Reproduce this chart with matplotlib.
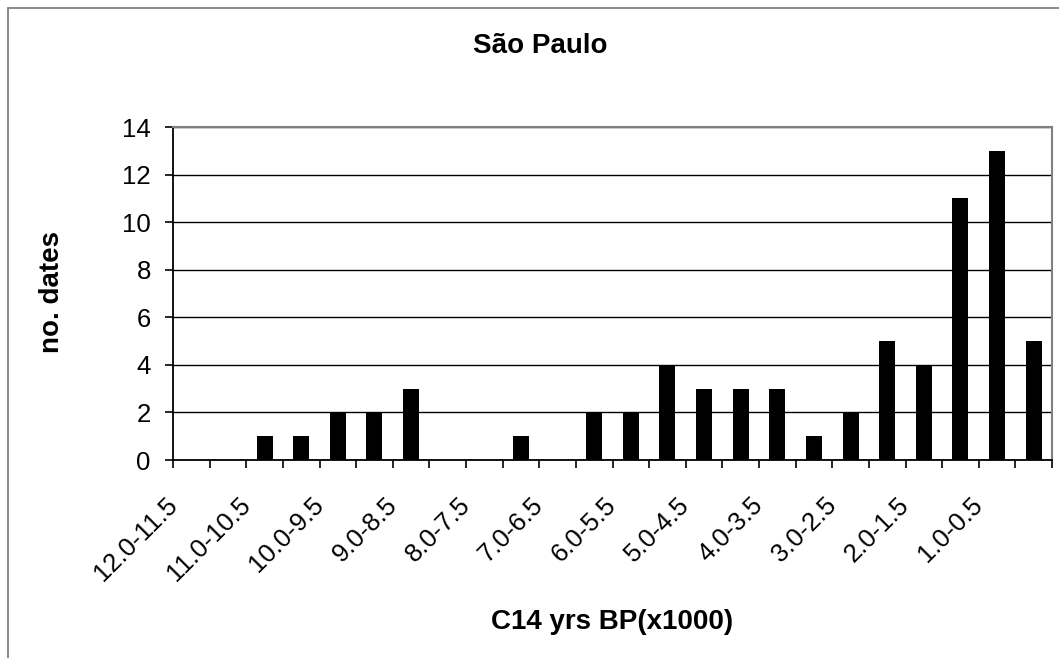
import numpy as np
import matplotlib.pyplot as plt
import matplotlib.transforms as mtransforms
from matplotlib.patches import Rectangle

plt.rcParams['font.family'] = ['Liberation Sans', 'DejaVu Sans']

# age bins (C14 yrs BP x1000), oldest first
bins = ['12.0-11.5', '11.5-11.0', '11.0-10.5', '10.5-10.0', '10.0-9.5', '9.5-9.0',
        '9.0-8.5', '8.5-8.0', '8.0-7.5', '7.5-7.0', '7.0-6.5', '6.5-6.0',
        '6.0-5.5', '5.5-5.0', '5.0-4.5', '4.5-4.0', '4.0-3.5', '3.5-3.0',
        '3.0-2.5', '2.5-2.0', '2.0-1.5', '1.5-1.0', '1.0-0.5', '0.5-0.0']
n_dates = [0, 0, 1, 1, 2, 2, 3, 0, 0, 1, 0, 2,
           2, 4, 3, 3, 3, 1, 2, 5, 4, 11, 13, 5]

W, H = 1059, 658
fig = plt.figure(figsize=(W / 100, H / 100), dpi=100)
ax = fig.add_axes([173 / W, 1 - 460 / H, (1052 - 173) / W, (460 - 127) / H])

x = np.arange(len(bins))
ax.bar(x, n_dates, width=0.44, color='black', zorder=3)

ax.set_xlim(-0.5, len(bins) - 0.5)
ax.set_ylim(0, 14)
ax.set_yticks(np.arange(0, 15, 2))
ax.yaxis.grid(True, color='black', linewidth=1.0, zorder=1)

# tick marks between categories (Excel style), no default labels
ax.set_xticks(np.arange(-0.5, len(bins), 1.0))
ax.set_xticklabels([])
ax.tick_params(axis='x', length=6, width=1.2, direction='out')
ax.tick_params(axis='y', length=6, width=1.2, direction='out', labelsize=18.5, pad=10)

# category labels on every other bin, rotated 45 deg
lab_trans = ax.get_xaxis_transform() + mtransforms.ScaledTranslation(
    -18 / 100, -41 / 100, fig.dpi_scale_trans)
for i in x[::2]:
    ax.text(i, 0, bins[i], transform=lab_trans, rotation=45, ha='right',
            va='center', rotation_mode='anchor', fontsize=18.5, clip_on=False)

for side in ['left', 'bottom']:
    ax.spines[side].set_color('black')
    ax.spines[side].set_linewidth(1.3)
for side in ['top', 'right']:
    ax.spines[side].set_color('#808080')
    ax.spines[side].set_linewidth(1.5)

fig.text(540 / W, 1 - 53 / H, 'São Paulo', ha='center', va='baseline',
         fontsize=20, fontweight='bold')
fig.text(52 / W, 1 - 292 / H, 'no. dates', ha='center', va='center',
         rotation=90, fontsize=20, fontweight='bold')
fig.text(612 / W, 1 - 629 / H, 'C14 yrs BP(x1000)', ha='center', va='baseline',
         fontsize=20, fontweight='bold')

# outer chart frame (only top/left edge visible in the crop)
fig.patches.append(Rectangle((8 / W, -0.1), 1.2, 1 - 8 / H + 0.1,
                             transform=fig.transFigure, fill=False,
                             edgecolor='#808080', linewidth=1.3))

fig.savefig('out.png', dpi=100)
